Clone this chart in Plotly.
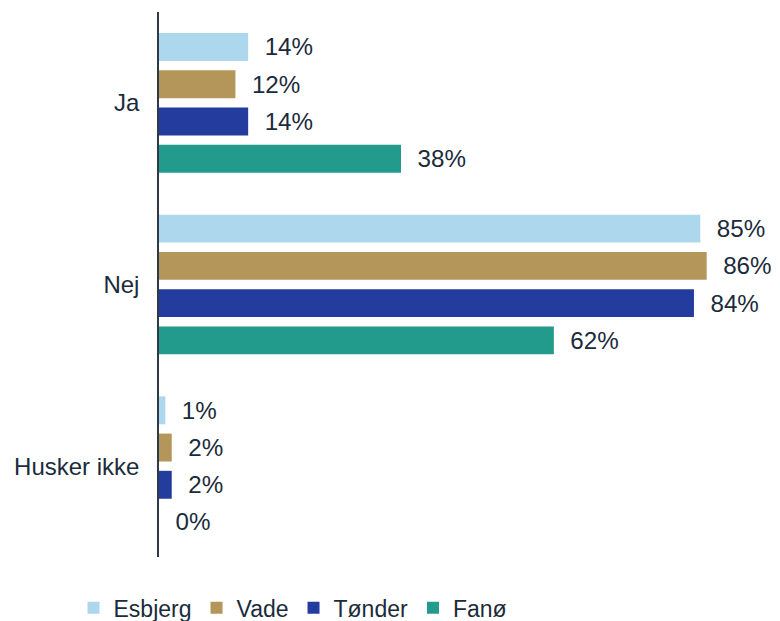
import plotly.graph_objects as go

categories = ["Ja", "Nej", "Husker ikke"]
series_names = ["Esbjerg", "Vade", "Tønder", "Fanø"]
esbjerg = [14, 85, 1]
vade = [12, 86, 2]
tonder = [14, 84, 2]
fano = [38, 62, 0]
colors = ["#ADD7ED", "#B5965A", "#233C9E", "#229A8C"]

values = [esbjerg, vade, tonder, fano]
text_color = "#1B2B3B"

fig = go.Figure()
for name, vals, col in zip(series_names, values, colors):
    fig.add_trace(go.Bar(
        name=name,
        y=categories,
        x=vals,
        orientation="h",
        marker=dict(color=col, line=dict(width=0)),
        text=[f"  {v}%" for v in vals],
        textposition="outside",
        textfont=dict(size=26, color=text_color, family="Liberation Sans, Arial"),
        cliponaxis=False,
        hoverinfo="skip",
    ))

fig.update_layout(
    width=780, height=621,
    barmode="group",
    bargap=0.18,
    bargroupgap=0.25,
    plot_bgcolor="white",
    paper_bgcolor="white",
    font=dict(family="Liberation Sans, Arial", size=24, color=text_color),
    margin=dict(l=151, r=24, t=4, b=72, autoexpand=False),
    showlegend=True,
    legend=dict(
        orientation="h",
        xref="container", yref="container",
        x=0.084, xanchor="left",
        y=0.034, yanchor="middle",
        font=dict(size=23, color=text_color),
        traceorder="normal",
    ),
)
fig.update_xaxes(
    range=[0, 95],
    visible=False,
    showgrid=False,
    zeroline=False,
)
fig.update_yaxes(
    autorange="reversed",
    automargin=False,
    showgrid=False,
    showline=True,
    linecolor="#2E3A46",
    linewidth=1.5,
    ticks="",
    ticklabelstandoff=13,
    tickfont=dict(size=24, color=text_color),
)

fig.write_html("out.html")
